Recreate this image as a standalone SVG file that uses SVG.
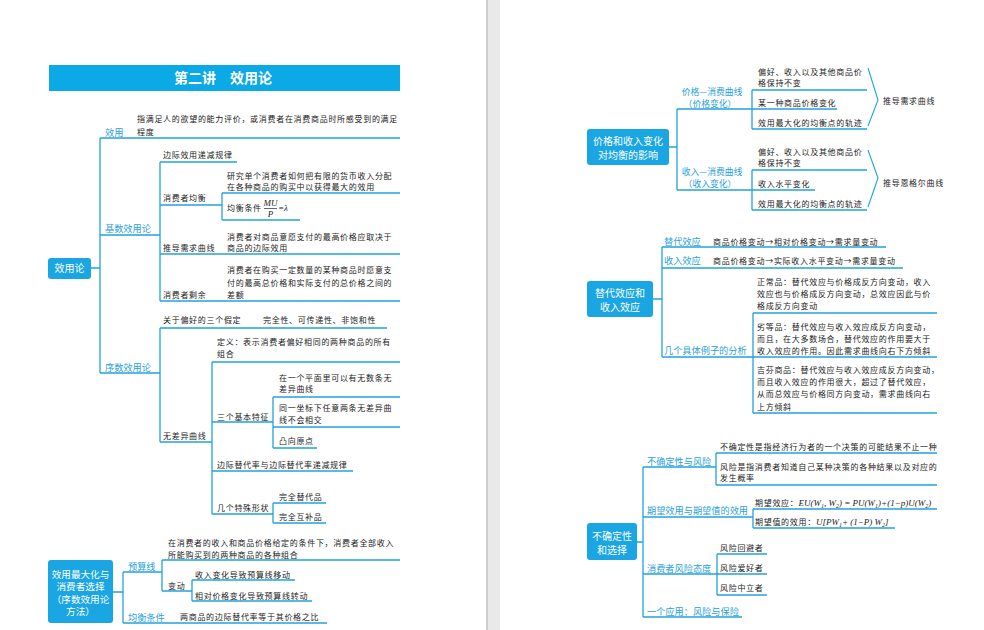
<svg xmlns="http://www.w3.org/2000/svg" width="984" height="630" viewBox="0 0 984 630">
<style>
.ln{stroke:#22a3dd;stroke-width:1.3;fill:none}
.br{stroke:#22a3dd;stroke-width:1.1;fill:none}
.t{font-family:"Noto Sans CJK SC","Noto Sans",sans-serif;font-size:8px;fill:#222;letter-spacing:0.7px}
.b{font-family:"Noto Sans CJK SC","Noto Sans",sans-serif;font-size:9.2px;fill:#2a9fdb}
.b2{font-family:"Noto Sans CJK SC","Noto Sans",sans-serif;font-size:8.8px;fill:#2a9fdb;text-anchor:middle}
.box{fill:#1aa6e3}
.bt{font-family:"Noto Sans CJK SC","Noto Sans",sans-serif;font-size:10px;fill:#fff;text-anchor:middle}
.bt2{font-family:"Noto Sans CJK SC","Noto Sans",sans-serif;font-size:9.6px;fill:#fff;text-anchor:middle}
.m{font-family:"Liberation Serif",serif;font-style:italic;font-size:9px;letter-spacing:0}
.s{font-size:6px}
</style>
<rect width="984" height="630" fill="#fff"/>
<rect x="486" y="0" width="14" height="630" fill="#e9e9e9"/>
<line x1="487" y1="0" x2="487" y2="630" stroke="#cdcdcd" stroke-width="2"/>

<g id="title">
<rect x="49" y="65" width="351" height="26" fill="#0ba9e6"/>
<text x="223" y="83" font-family="'Noto Sans CJK SC',sans-serif" font-size="14" font-weight="bold" fill="#fff" text-anchor="middle">第二讲　效用论</text>
</g>

<g id="connectors">
<path class="ln" d="M91 268H100M100 138V373M100 138H400M100 235H160M100 373H160"/>
<path class="ln" d="M160 162V301M160 162H237M160 205H222M222 193V220M222 193H400M222 220H300M160 254H400M160 301H400"/>
<path class="ln" d="M160 328V442M160 328H387M160 442H212M212 362V514M212 362H400M212 422H273M273 397V448M273 397H400M273 427H400M273 448H317M212 471H353M212 514H273M273 503V523M273 503H326M273 523H326"/>
<path class="ln" d="M113 592H123M123 572V623M123 572H162M162 560V591M162 560H400M162 591H192M192 580V601M192 580H295M192 601H312M123 623H327"/>
<path class="ln" d="M669 147H677M677 109V190M677 109H837M752 90V129M752 90H867M752 129H867M677 190H815M752 170V210M752 170H867M752 210H867"/>
<path class="br" d="M868 68L878 100L868 126M868 150L878 178L868 207"/>
<path class="ln" d="M653 299H662M662 247V357M662 247H886M662 268H903M662 357H937M753 313V413M753 313H937M753 413H937"/>
<path class="ln" d="M637 542H643M643 467V617M643 467H716M716 453V485M716 453H937M716 485H937M643 517H753M753 509V528M753 509H937M753 528H895M643 574H767M717 554V595M717 554H767M717 595H767M643 617H742"/>
</g>

<g id="root-xiaoyonglun">
<rect class="box" x="48" y="258" width="43" height="21" rx="3"/>
<text class="bt" x="69.5" y="272">效用论</text>
</g>
<g id="n-xiaoyong">
<text class="b" x="105" y="135.5">效用</text>
<text class="t" x="137" y="122">指满足人的欲望的能力评价，或消费者在消费商品时所感受到的满足</text>
<text class="t" x="137" y="135">程度</text>
</g>
<g id="n-jishu">
<text class="b" x="105" y="231.5">基数效用论</text>
</g>
<g id="n-bianji">
<text class="t" x="163" y="158">边际效用递减规律</text>
</g>
<g id="n-junheng">
<text class="t" x="163" y="201">消费者均衡</text>
<text class="t" x="227" y="179">研究单个消费者如何把有限的货币收入分配</text>
<text class="t" x="227" y="190">在各种商品的购买中以获得最大的效用</text>
<text class="t" x="227" y="211">均衡条件</text>
<text class="t m" x="270.5" y="205.5" text-anchor="middle">MU</text>
<line x1="264" y1="208.5" x2="277" y2="208.5" stroke="#222" stroke-width="0.7"/>
<text class="t m" x="270.5" y="216.5" text-anchor="middle">P</text>
<text class="t m" x="278" y="211">=λ</text>
</g>
<g id="n-xuqiu">
<text class="t" x="163" y="251">推导需求曲线</text>
<text class="t" x="227" y="240">消费者对商品意愿支付的最高价格应取决于</text>
<text class="t" x="227" y="251">商品的边际效用</text>
</g>
<g id="n-shengyu">
<text class="t" x="163" y="298">消费者剩余</text>
<text class="t" x="227" y="273">消费者在购买一定数量的某种商品时愿意支</text>
<text class="t" x="227" y="286">付的最高总价格和实际支付的总价格之间的</text>
<text class="t" x="227" y="298">差额</text>
</g>
<g id="n-xushu">
<text class="b" x="105" y="370.5">序数效用论</text>
</g>
<g id="n-jiading">
<text class="t" x="163" y="323">关于偏好的三个假定</text>
<text class="t" x="263" y="323">完全性、可传递性、非饱和性</text>
</g>
<g id="n-wucha">
<text class="t" x="163" y="439">无差异曲线</text>
<text class="t" x="217" y="345">定义：表示消费者偏好相同的两种商品的所有</text>
<text class="t" x="217" y="357">组合</text>
</g>
<g id="n-tezheng">
<text class="t" x="217" y="420">三个基本特征</text>
<text class="t" x="279" y="380.5">在一个平面里可以有无数条无</text>
<text class="t" x="279" y="391.5">差异曲线</text>
<text class="t" x="279" y="411">同一坐标下任意两条无差异曲</text>
<text class="t" x="279" y="423">线不会相交</text>
<text class="t" x="279" y="444">凸向原点</text>
</g>
<g id="n-tidai">
<text class="t" x="217" y="468">边际替代率与边际替代率递减规律</text>
</g>
<g id="n-xingzhuang">
<text class="t" x="217" y="511">几个特殊形状</text>
<text class="t" x="279" y="500">完全替代品</text>
<text class="t" x="279" y="520">完全互补品</text>
</g>

<g id="root-zuidahua">
<rect class="box" x="48" y="560" width="65" height="63" rx="3"/>
<text class="bt2" x="80.5" y="577.6">效用最大化与</text>
<text class="bt2" x="80.5" y="590.2">消费者选择</text>
<text class="bt2" x="80.5" y="602.8">（序数效用论</text>
<text class="bt2" x="80.5" y="615.4">方法）</text>
</g>
<g id="n-yusuan">
<text class="b" x="128" y="569.5">预算线</text>
<text class="t" x="168" y="545.5">在消费者的收入和商品价格给定的条件下，消费者全部收入</text>
<text class="t" x="168" y="558">所能购买到的两种商品的各种组合</text>
</g>
<g id="n-biandong">
<text class="t" x="168" y="589">变动</text>
<text class="t" x="195" y="578">收入变化导致预算线移动</text>
<text class="t" x="195" y="598.5">相对价格变化导致预算线转动</text>
</g>
<g id="n-junhengtiaojian">
<text class="b" x="128" y="620.5">均衡条件</text>
<text class="t" x="180" y="620">两商品的边际替代率等于其价格之比</text>
</g>

<g id="root-jiage">
<rect class="box" x="587" y="129" width="82" height="36" rx="3"/>
<text class="bt" x="628" y="145.2">价格和收入变化</text>
<text class="bt" x="628" y="158.8">对均衡的影响</text>
</g>
<g id="n-jiagexiaofei">
<text class="b2" x="712" y="94.8">价格—消费曲线</text>
<text class="b2" x="710" y="106.5">（价格变化）</text>
<text class="t" x="758" y="75">偏好、收入以及其他商品价</text>
<text class="t" x="758" y="86">格保持不变</text>
<text class="t" x="758" y="106">某一种商品价格变化</text>
<text class="t" x="758" y="126">效用最大化的均衡点的轨迹</text>
<text class="t" x="883" y="104">推导需求曲线</text>
</g>
<g id="n-shouruxiaofei">
<text class="b2" x="712" y="174.8">收入—消费曲线</text>
<text class="b2" x="710" y="186.5">（收入变化）</text>
<text class="t" x="758" y="155">偏好、收入以及其他商品价</text>
<text class="t" x="758" y="166">格保持不变</text>
<text class="t" x="758" y="187">收入水平变化</text>
<text class="t" x="758" y="207">效用最大化的均衡点的轨迹</text>
<text class="t" x="883" y="186">推导恩格尔曲线</text>
</g>

<g id="root-tidai">
<rect class="box" x="587" y="281" width="66" height="36" rx="3"/>
<text class="bt" x="620" y="297">替代效应和</text>
<text class="bt" x="620" y="310.5">收入效应</text>
</g>
<g id="n-tidaixiaoying">
<text class="b" x="664" y="245">替代效应</text>
<text class="t" x="713" y="245">商品价格变动→相对价格变动→需求量变动</text>
</g>
<g id="n-shouruxiaoying">
<text class="b" x="664" y="264">收入效应</text>
<text class="t" x="713" y="264">商品价格变动→实际收入水平变动→需求量变动</text>
</g>
<g id="n-lizi">
<text class="b" x="664" y="353.5">几个具体例子的分析</text>
<text class="t" x="757" y="285">正常品：替代效应与价格成反方向变动，收入</text>
<text class="t" x="757" y="297">效应也与价格成反方向变动，总效应因此与价</text>
<text class="t" x="757" y="309">格成反方向变动</text>
<text class="t" x="757" y="330">劣等品：替代效应与收入效应成反方向变动，</text>
<text class="t" x="757" y="342">而且，在大多数场合，替代效应的作用要大于</text>
<text class="t" x="757" y="353.5">收入效应的作用。因此需求曲线向右下方倾斜</text>
<text class="t" x="757" y="373">吉芬商品：替代效应与收入效应成反方向变动，</text>
<text class="t" x="757" y="385">而且收入效应的作用很大，超过了替代效应，</text>
<text class="t" x="757" y="397">从而总效应与价格同方向变动，需求曲线向右</text>
<text class="t" x="757" y="410">上方倾斜</text>
</g>

<g id="root-buqueding">
<rect class="box" x="587" y="523" width="50" height="37" rx="3"/>
<text class="bt" x="612" y="540.2">不确定性</text>
<text class="bt" x="612" y="553.8">和选择</text>
</g>
<g id="n-fengxian">
<text class="b" x="647" y="465">不确定性与风险</text>
<text class="t" x="720" y="450">不确定性是指经济行为者的一个决策的可能结果不止一种</text>
<text class="t" x="720" y="470">风险是指消费者知道自己某种决策的各种结果以及对应的</text>
<text class="t" x="720" y="481">发生概率</text>
</g>
<g id="n-qiwang">
<text class="b" x="647" y="513.5">期望效用与期望值的效用</text>
<text class="t" x="755" y="506">期望效应：<tspan class="m">EU</tspan><tspan class="m" font-style="normal">(</tspan><tspan class="m">W</tspan><tspan class="m s" dy="2">1</tspan><tspan class="m" dy="-2" font-style="normal">, </tspan><tspan class="m">W</tspan><tspan class="m s" dy="2">2</tspan><tspan class="m" dy="-2" font-style="normal">) = </tspan><tspan class="m">PU</tspan><tspan class="m" font-style="normal">(</tspan><tspan class="m">W</tspan><tspan class="m s" dy="2">1</tspan><tspan class="m" dy="-2" font-style="normal">)+(1−</tspan><tspan class="m">p</tspan><tspan class="m" font-style="normal">)</tspan><tspan class="m">U</tspan><tspan class="m" font-style="normal">(</tspan><tspan class="m">W</tspan><tspan class="m s" dy="2">2</tspan><tspan class="m" dy="-2" font-style="normal">)</tspan></text>
<text class="t" x="755" y="525">期望值的效用：<tspan class="m">U</tspan><tspan class="m" font-style="normal">[</tspan><tspan class="m">PW</tspan><tspan class="m s" dy="2">1</tspan><tspan class="m" dy="-2" font-style="normal">+ (1−</tspan><tspan class="m">P</tspan><tspan class="m" font-style="normal">) </tspan><tspan class="m">W</tspan><tspan class="m s" dy="2">2</tspan><tspan class="m" dy="-2" font-style="normal">]</tspan></text>
</g>
<g id="n-taidu">
<text class="b" x="647" y="571.5">消费者风险态度</text>
<text class="t" x="720" y="551">风险回避者</text>
<text class="t" x="720" y="571">风险爱好者</text>
<text class="t" x="720" y="591">风险中立者</text>
</g>
<g id="n-baoxian">
<text class="b" x="647" y="615">一个应用：风险与保险</text>
</g>
</svg>
